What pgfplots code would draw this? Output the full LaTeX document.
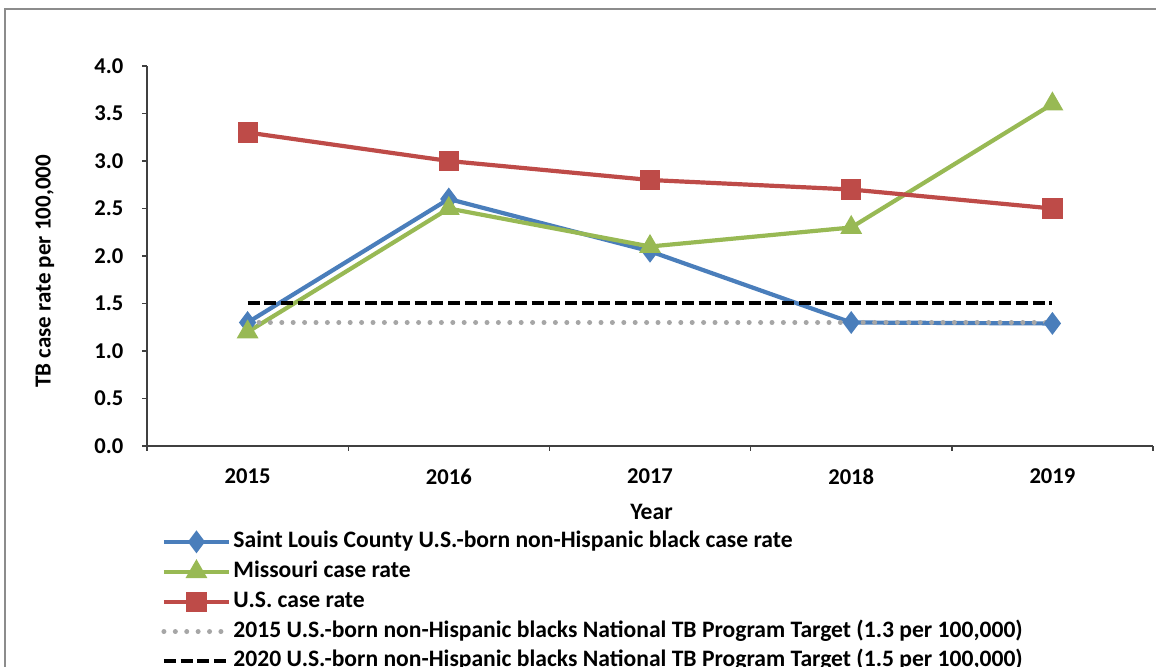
\documentclass[border=0pt]{standalone}
\usepackage{fontspec}
\setmainfont{Carlito}
\usepackage{pgfplots}
\pgfplotsset{compat=1.18}

\definecolor{slcblue}{HTML}{4A7EBB}
\definecolor{mogreen}{HTML}{98B954}
\definecolor{usred}{HTML}{BE4B48}
\definecolor{tgtgray}{HTML}{A6A6A6}
\definecolor{framegray}{HTML}{8C8C8C}
\definecolor{axisgray}{HTML}{404040}

\begin{document}
\begin{tikzpicture}
\useasboundingbox (-73.5pt,-110.5pt) rectangle (504.5pt,223pt);
\clip (-73.5pt,-110.5pt) rectangle (504.5pt,223pt);
% chart area frame
\draw[framegray, line width=0.6pt] (-71pt,-140pt) rectangle (540pt,218.5pt);
\begin{axis}[
  at={(0pt,0pt)}, anchor=south west,
  scale only axis, width=503pt, height=190pt,
  xmin=2014.5, xmax=2019.5, ymin=0, ymax=4,
  axis x line=bottom, axis y line=left,
  axis line style={-, axisgray, line width=0.7pt},
  tick style={axisgray, line width=0.7pt},
  tick align=outside,
  major tick length=2.5pt, minor tick length=2.5pt,
  xtick={2015,2016,2017,2018,2019},
  xticklabels={2015,2016,2017,2018,2019},
  minor xtick={2014.5,2015.5,2016.5,2017.5,2018.5,2019.5},
  every major x tick/.style={draw=none},
  ytick={0,0.5,1,1.5,2,2.5,3,3.5,4},
  tick label style={font=\bfseries\fontsize{11.3}{13}\selectfont, black},
  /pgf/number format/assume math mode=true,
  yticklabel style={xshift=-5.8pt,
    /pgf/number format/fixed, /pgf/number format/fixed zerofill,
    /pgf/number format/precision=1},
  xticklabel style={yshift=-5.5pt},
  clip=false,
  legend cell align=left,
  legend style={at={(axis description cs:0.008,-0.213)}, anchor=north west,
    draw=none, fill=none, font=\bfseries\fontsize{11.8}{13}\selectfont,
    row sep=4.45pt,
    nodes={inner sep=0pt, text height=8pt, text depth=2.5pt},
    /tikz/every odd column/.append style={column sep=1pt}},
  legend image code/.code={
    \draw[mark repeat=2, mark phase=2] plot coordinates {(0pt,0pt)(16.25pt,0pt)(32.5pt,0pt)};
  },
]
% Saint Louis County U.S.-born non-Hispanic black
\addplot[slcblue, line width=2.1pt, mark=diamond*, mark size=4pt, mark options={solid}]
  coordinates {(2015,1.3)(2016,2.6)(2017,2.05)(2018,1.3)(2019,1.29)};
\addlegendentry{Saint Louis County U.S.-born non-Hispanic black case rate}
% Missouri
\addplot[mogreen, line width=2.1pt, mark=triangle*, mark size=4.2pt, mark options={solid}]
  coordinates {(2015,1.2)(2016,2.5)(2017,2.1)(2018,2.3)(2019,3.6)};
\addlegendentry{Missouri case rate}
% United States
\addplot[usred, line width=2.1pt, mark=square*, mark size=4pt, mark options={solid}]
  coordinates {(2015,3.3)(2016,3.0)(2017,2.8)(2018,2.7)(2019,2.5)};
\addlegendentry{U.S. case rate}
% program targets
\addplot[tgtgray, line width=2.5pt, line cap=round, dash pattern=on 0pt off 5.7pt]
  coordinates {(2015,1.3)(2016,1.3)(2017,1.3)(2018,1.3)(2019,1.3)};
\addlegendentry{2015 U.S.-born non-Hispanic blacks National TB Program Target (1.3 per 100,000)}
\addplot[black, line width=2pt, dash pattern=on 6pt off 2.35pt]
  coordinates {(2015,1.5)(2016,1.5)(2017,1.5)(2018,1.5)(2019,1.5)};
\addlegendentry{2020 U.S.-born non-Hispanic blacks National TB Program Target (1.5 per 100,000)}

\node[rotate=90, font=\bfseries\fontsize{11.5}{13}\selectfont]
  at (axis description cs:-0.1014,0.46) {TB case rate per 100,000};
\node[font=\bfseries\fontsize{11.8}{13}\selectfont]
  at (axis description cs:0.5015,-0.174) {Year};
\end{axis}
\end{tikzpicture}
\end{document}
